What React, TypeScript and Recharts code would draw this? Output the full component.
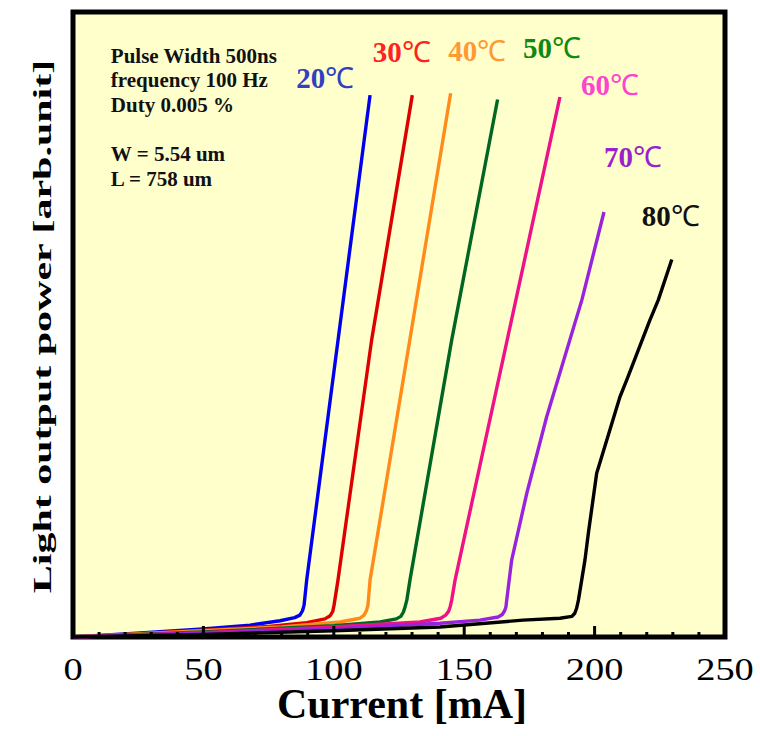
import {
  LineChart, Line, XAxis, YAxis, CartesianGrid, ReferenceArea, ReferenceDot, Label,
} from "recharts";

type Pt = [number, number]; // [current mA, light output (arb.)]

// L-I curves, one list per temperature
const T20: Pt[] = [[0, 0], [24.5, 0.6], [49.8, 1.3], [67.9, 1.9], [79.4, 2.6], [85, 3.1], [87, 3.5], [88, 4.2], [88.6, 5.1], [89.6, 9.1], [113.9, 86.7]];
const T30: Pt[] = [[0, 0], [24.5, 0.5], [49.8, 1.1], [75, 1.7], [89.6, 2.3], [96.6, 2.9], [98.6, 3.4], [99.6, 4.1], [100.1, 5.1], [101.6, 9.1], [114.5, 47.5], [121.5, 65.1], [130.1, 86.7]];
const T40: Pt[] = [[0, 0], [49.8, 1.0], [80, 1.6], [102.4, 2.4], [110, 3.0], [111.6, 3.5], [112.5, 4.2], [113.1, 5.1], [113.9, 9.1], [144.8, 87.0]];
const T50: Pt[] = [[0, 0], [49.8, 0.8], [100, 1.8], [117.7, 2.4], [124, 2.9], [125.7, 3.3], [126.7, 4.0], [127.3, 4.8], [128, 5.9], [129.2, 9.1], [145.2, 47.5], [162.8, 86.0]];
const T60: Pt[] = [[0, 0], [50, 0.7], [100, 1.6], [133, 2.4], [141, 3.0], [142.9, 3.5], [144, 4.1], [144.6, 4.8], [145.2, 5.9], [146.5, 9.1], [186.7, 86.4]];
const T70: Pt[] = [[0, 0], [50, 0.6], [100, 1.3], [140.7, 2.2], [156, 2.7], [163, 3.2], [164.6, 3.6], [165.5, 4.2], [166, 4.8], [166.3, 5.9], [168.2, 12.3], [174, 23.0], [181.6, 35.2], [195.1, 53.9], [203.6, 68.0]];
const T80: Pt[] = [[0, 0], [50, 0.4], [100, 1.0], [140.7, 1.6], [172.5, 2.7], [186.7, 3.0], [191.3, 3.3], [192.4, 3.8], [193.1, 4.6], [193.8, 5.9], [196.3, 12.3], [197.6, 16.6], [200.8, 26.2], [209.7, 38.4], [212.3, 41.1], [221.2, 50.7], [224.4, 53.9], [229.6, 60.4]];

const TEMPS = ["20", "30", "40", "50", "60", "70", "80"];
const CURVES = [T20, T30, T40, T50, T60, T70, T80];

const X_TICKS = [0, 10, 20, 30, 40, 50, 60, 70, 80, 90, 100, 110, 120, 130, 140, 150, 160, 170, 180, 190, 200, 210, 220, 230, 240, 250];

const INFO_LINES = ["Pulse Width 500ns", "frequency 100 Hz", "Duty 0.005 %", "", "W = 5.54 um", "L = 758 um"];

// styling
const LINE_COLORS = ["#0000ee", "#dd0000", "#ff8c1a", "#006622", "#ee1188", "#9922dd", "#000000"];
const TEXT_COLORS = ["#3040c0", "#ff2222", "#ff9933", "#118811", "#ff44cc", "#9922cc", "#111111"];
// where each temperature tag sits (data units: left edge, baseline)
const TAG_POS: Pt[] = [[85.6, 87.8], [114.9, 92.0], [143.9, 92.2], [172.5, 92.6], [194.8, 86.7], [203.6, 75.2], [218.1, 65.8]];

const SERIF = "'Liberation Serif', 'Times New Roman', serif";

function CurrentTick({ x, y, payload }: any) {
  const v = payload.value;
  const major = v % 50 === 0;
  return (
    <g>
      <line x1={x} x2={x} y1={y} y2={y - (major ? 11 : 5)} stroke="#000" strokeWidth={3} />
      {major && (
        <text
          transform={`translate(${x},${y + 43}) scale(1.24,1)`}
          textAnchor="middle" fontFamily={SERIF} fontSize={31} fill="#000"
        >
          {v}
        </text>
      )}
    </g>
  );
}

function XTitle({ viewBox }: any) {
  const { x, y, width } = viewBox;
  return (
    <text x={x + width / 2 + 3} y={y + 81} textAnchor="middle"
      fontFamily={SERIF} fontWeight="bold" fontSize={42} fill="#000">
      Current [mA]
    </text>
  );
}

function YTitle({ viewBox }: any) {
  const { y, height } = viewBox;
  return (
    <text
      transform={`translate(51,${y + height / 2 + 2}) rotate(-90) scale(1.68,1)`}
      textAnchor="middle" fontFamily={SERIF} fontWeight="bold" fontSize={25} fill="#000"
    >
      Light output power [arb.unit]
    </text>
  );
}

export default function App() {
  return (
    <div style={{ position: "absolute", left: 0, top: 0, background: "#fff" }}>
      <LineChart width={760} height={736} margin={{ top: 12, right: 35, left: 0, bottom: 0 }}>
        <CartesianGrid horizontal={false} vertical={false} fill="#ffffcc" />
        <XAxis
          type="number" dataKey="x" domain={[0, 250]} ticks={X_TICKS} interval={0}
          height={99} tickSize={0} tickMargin={0} tickLine={false}
          axisLine={false} tick={<CurrentTick />} allowDataOverflow
        >
          <Label content={<XTitle />} />
        </XAxis>
        <YAxis type="number" domain={[0, 100]} width={73} tick={false} axisLine={false} tickLine={false}>
          <Label content={<YTitle />} />
        </YAxis>
        <ReferenceArea x1={0} x2={250} y1={0} y2={100} fill="none" stroke="#000" strokeWidth={5} ifOverflow="visible" />
        {CURVES.map((pts, i) => (
          <Line
            key={TEMPS[i]}
            data={pts.map(([x, y]) => ({ x, y }))}
            dataKey="y" type="linear" stroke={LINE_COLORS[i]} strokeWidth={3.4}
            strokeLinejoin="round" dot={false} isAnimationActive={false}
          />
        ))}
        {TEMPS.map((t, i) => (
          <ReferenceDot
            key={"tag" + t} x={TAG_POS[i][0]} y={TAG_POS[i][1]} r={0} ifOverflow="visible"
            shape={(p: any) => (
              <text x={p.cx} y={p.cy} fontFamily={SERIF} fontSize={29} fill={TEXT_COLORS[i]}>
                <tspan fontWeight="bold">{t}</tspan>
                <tspan>℃</tspan>
              </text>
            )}
          />
        ))}
        <ReferenceDot
          x={14.5} y={91.9} r={0} ifOverflow="visible"
          shape={(p: any) => (
            <text x={p.cx} y={p.cy} fontFamily={SERIF} fontWeight="bold" fontSize={21} fill="#111">
              {INFO_LINES.map((s, k) => (
                <tspan key={k} x={p.cx} dy={k === 0 ? 0 : 24.6}>{s || " "}</tspan>
              ))}
            </text>
          )}
        />
      </LineChart>
    </div>
  );
}
